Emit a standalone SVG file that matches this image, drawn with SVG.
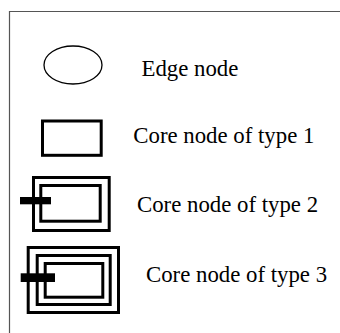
<svg xmlns="http://www.w3.org/2000/svg" width="340" height="333" viewBox="0 0 340 333">
  <style>
    .frame { fill: none; stroke: #555; stroke-width: 1.2; }
    .edge { fill: none; stroke: #000; stroke-width: 1.3; }
    .core { fill: none; stroke: #000; stroke-width: 3; }
    .bar { fill: #000; }
    text { font-family: "Liberation Serif", "Times New Roman", serif; font-size: 22.8px; fill: #000; }
  </style>
  <rect width="340" height="333" fill="#fff"/>
  <!-- legend frame: top and left edges only -->
  <path class="frame" d="M9.5 333 V11.5 H340"/>

  <g id="edge-node">
    <ellipse class="edge" cx="73" cy="65" rx="29" ry="19"/>
    <text x="141.5" y="76">Edge node</text>
  </g>

  <g id="core-type-1">
    <rect class="core" x="42.5" y="121" width="58.7" height="34.3"/>
    <text x="133.3" y="143.3">Core node of type 1</text>
  </g>

  <g id="core-type-2">
    <rect class="core" x="33.5" y="177.5" width="75.7" height="53"/>
    <rect class="core" x="40.8" y="185.5" width="59.4" height="35.7"/>
    <rect class="bar" x="20" y="197" width="31" height="7.3"/>
    <text x="137" y="212">Core node of type 2</text>
  </g>

  <g id="core-type-3">
    <rect class="core" x="28.2" y="247.5" width="90.3" height="65"/>
    <rect class="core" x="37.2" y="255.5" width="73" height="49"/>
    <rect class="core" x="45.2" y="263.5" width="57.6" height="33.7"/>
    <rect class="bar" x="20.7" y="273.3" width="34.3" height="8.7"/>
    <text x="146" y="281.7">Core node of type 3</text>
  </g>
</svg>
